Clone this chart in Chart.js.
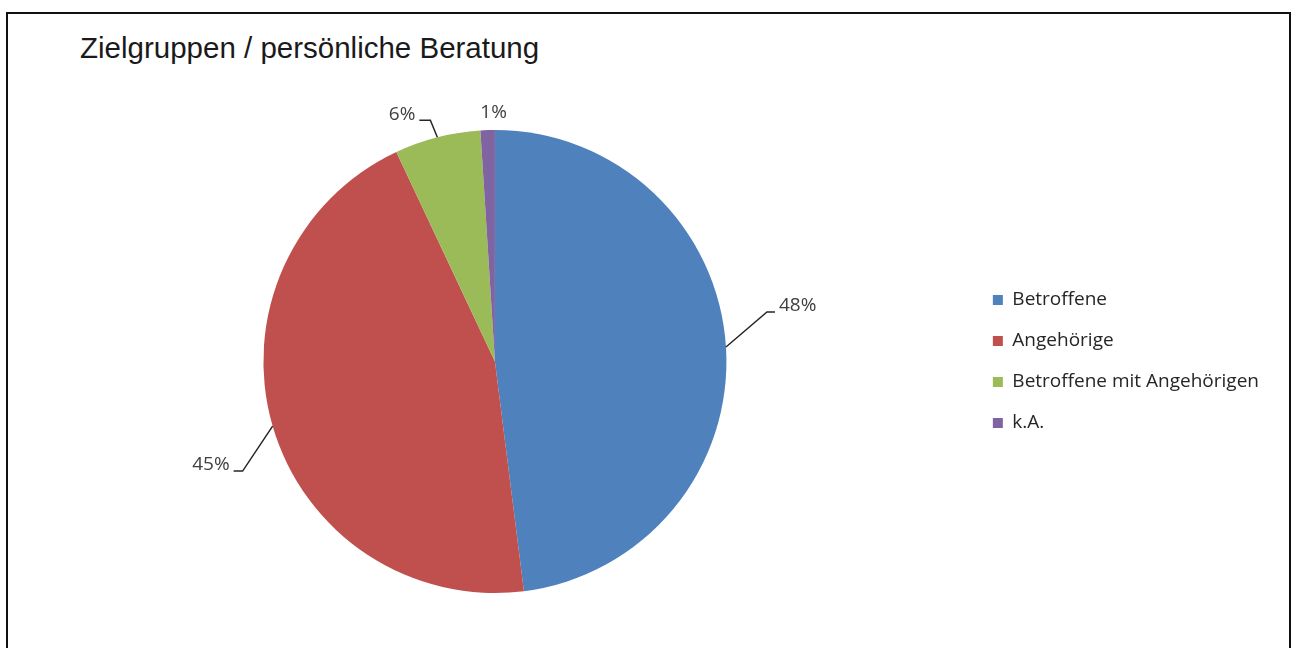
<!DOCTYPE html>
<html>
<head>
<meta charset="utf-8">
<script src="https://cdn.jsdelivr.net/npm/chart.js@4.4.1/dist/chart.umd.min.js"></script>
<style>
  html, body { margin: 0; padding: 0; background: #fff; }
  body { width: 1294px; height: 648px; position: relative; overflow: hidden; }
  #rahmen { position: absolute; left: 6px; top: 12px; width: 1281px; height: 700px;
            border: 2px solid #111; border-bottom: none; }
  #titel { position: absolute; left: 80px; top: 31px; margin: 0;
           font: 400 29.5px "Liberation Sans", Arial, sans-serif; color: #1a1a1a; }
  #grafica { position: absolute; left: 0; top: 0; }
</style>
</head>
<body>
<div id="rahmen"></div>
<h1 id="titel">Zielgruppen / persönliche Beratung</h1>
<canvas id="grafica" width="1294" height="648"></canvas>
<script>
// Daten (Prozent)
const kategorien = ["Betroffene", "Angehörige", "Betroffene mit Angehörigen", "k.A."];
const anteile = [48, 45, 6, 1];
const farben = ["#4F81BD", "#C0504D", "#9BBB59", "#8064A2"];

// Lage der Prozent-Beschriftungen relativ zum Rand des Segments
const beschriftung = [
    { dx: 41, dy: -35, len: 8, side: 1, linie: true },
    { dx: -30, dy: 45, len: 9, side: -1, linie: true },
    { dx: -7, dy: -17, len: 11, side: -1, linie: true },
    { dx: 6, dy: -18, len: 0, side: 0, linie: false }
];

//Zeichnet die Prozentwerte mit Fuehrungslinien
const prozentLabels = {
    id: 'prozentLabels',
    afterDatasetsDraw(chart) {
        const ctx = chart.ctx;
        const meta = chart.getDatasetMeta(0);
        ctx.save();
        ctx.font = '19px "Open Sans", sans-serif';
        ctx.fillStyle = '#404040';
        ctx.strokeStyle = '#262626';
        ctx.lineWidth = 1.5;
        ctx.textBaseline = 'middle';
        meta.data.forEach((arc, i) => {
            const p = arc.getProps(['x', 'y', 'startAngle', 'endAngle', 'outerRadius'], true);
            const mitte = (p.startAngle + p.endAngle) / 2;
            const rx = p.x + Math.cos(mitte) * p.outerRadius;
            const ry = p.y + Math.sin(mitte) * p.outerRadius;
            const b = beschriftung[i];
            const ex = rx + b.dx;
            const ey = ry + b.dy;
            const text = anteile[i] + '%';
            if (b.linie) {
                ctx.beginPath();
                ctx.moveTo(rx, ry);
                ctx.lineTo(ex, ey);
                ctx.lineTo(ex + b.side * b.len, ey);
                ctx.stroke();
                ctx.textAlign = b.side > 0 ? 'left' : 'right';
                ctx.fillText(text, ex + b.side * (b.len + 4), ey - 6);
            } else {
                ctx.textAlign = 'center';
                ctx.fillText(text, ex, ey);
            }
        });
        ctx.restore();
    }
};

const config = {
    type: 'pie',
    data: {
        labels: kategorien,
        datasets: [{
            data: anteile,
            backgroundColor: farben,
            borderWidth: 0
        }]
    },
    options: {
        responsive: false,
        animation: false,
        layout: { padding: { top: 130, bottom: 55, left: 19, right: 25 } },
        plugins: {
            tooltip: { enabled: false },
            legend: {
                position: 'right',
                fullSize: false,
                labels: {
                    boxWidth: 10,
                    boxHeight: 10,
                    padding: 22,
                    color: '#262626',
                    font: { family: '"Open Sans", sans-serif', size: 19 }
                }
            }
        }
    },
    plugins: [prozentLabels]
};

ChartPrincipal = new Chart(document.getElementById('grafica'), config);
</script>
</body>
</html>
